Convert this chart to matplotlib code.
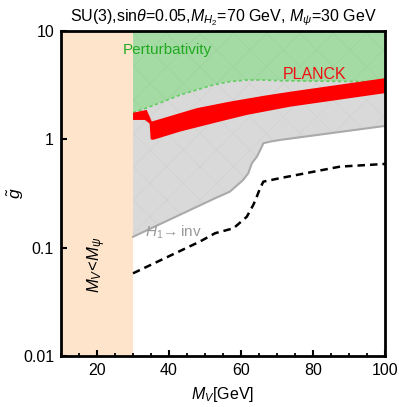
import matplotlib
matplotlib.use("Agg")
import matplotlib.pyplot as plt
import numpy as np
from matplotlib.ticker import MultipleLocator, FixedLocator, NullLocator

plt.rcParams['font.family'] = ['Liberation Sans', 'DejaVu Sans']
plt.rcParams['mathtext.fontset'] = 'custom'
plt.rcParams['mathtext.rm'] = 'Liberation Sans'
plt.rcParams['mathtext.it'] = 'Liberation Sans:italic'
plt.rcParams['hatch.linewidth'] = 0.4

# perturbativity boundary (bottom of green region)
pert_x = [30.0, 34.7, 38.4, 43.1, 47.7, 52.3, 56.9, 61.6, 66.2, 70.8, 80.0, 90.0, 100.0]
pert_y = [1.76, 2.00, 2.23, 2.57, 2.86, 3.18, 3.41, 3.53, 3.53, 3.48, 3.45, 3.42, 3.40]

# H1 -> inv boundary (bottom of grey region)
inv_x = [30.0, 52.8, 56.9, 60.6, 62.0, 63.0, 64.4, 65.8, 66.2, 68.1, 70.8, 100.0]
inv_y = [0.126, 0.286, 0.329, 0.422, 0.486, 0.601, 0.692, 0.857, 0.92, 0.953, 0.987, 1.33]

# PLANCK band
planck_top_x = [30.0, 33.8, 35.2, 38.4, 47.7, 56.9, 66.2, 73.6, 100.0]
planck_top_y = [1.76, 1.87, 1.46, 1.57, 1.94, 2.23, 2.52, 2.75, 3.67]
planck_bot_x = [30.0, 33.3, 34.6, 34.9, 35.6, 43.1, 52.3, 61.6, 73.6, 100.0]
planck_bot_y = [1.51, 1.51, 1.40, 1.00, 0.99, 1.18, 1.41, 1.68, 2.00, 2.67]

# dashed line
dash_x = [30.0, 48.6, 52.8, 57.9, 61.6, 63.4, 64.0, 65.3, 66.2, 70.8, 87.5, 100.0]
dash_y = [0.058, 0.114, 0.136, 0.151, 0.193, 0.248, 0.275, 0.354, 0.407, 0.438, 0.56, 0.593]

fig = plt.figure(figsize=(3.99, 4.07), dpi=100)
ax = fig.add_axes([0.153, 0.1253, 0.812, 0.7985])
ax.set_yscale('log')
ax.set_xlim(10, 100)
ax.set_ylim(0.01, 10)

# M_V < M_psi region
ax.axvspan(10, 30, color='#fde4cb', lw=0, zorder=1)

# green region
gx = np.array(pert_x)
gy = np.array(pert_y)
ax.fill(np.concatenate([gx, [100, 30]]), np.concatenate([gy, [10, 10]]),
        facecolor='#a4daa4', edgecolor='#9dd29d', hatch='x', lw=0, zorder=2)
ax.plot(gx, gy, color='#66cc66', ls=(0, (2, 1.5)), lw=1.2, zorder=3)

# grey region
ix = np.array(inv_x)
iy = np.array(inv_y)
ax.fill(np.concatenate([gx, ix[::-1]]), np.concatenate([gy, iy[::-1]]),
        facecolor='#d9d9d9', edgecolor='#d0d0d0', hatch='x', lw=0, zorder=2)
ax.plot(ix, iy, color='#aaaaaa', lw=1.5, zorder=3)

# PLANCK band
ax.fill(np.concatenate([planck_top_x, planck_bot_x[::-1]]),
        np.concatenate([planck_top_y, planck_bot_y[::-1]]),
        color='#ff0000', lw=0, zorder=4)

# dashed black line
ax.plot(dash_x, dash_y, color='black', ls=(0, (3, 2)), lw=1.8, zorder=5)

ax.text(27.2, 6.7, 'Perturbativity', color='#22aa22', fontsize=11, va='center', zorder=6)
ax.text(71.7, 3.94, 'PLANCK', color='#ee1111', fontsize=11.5, va='center', zorder=6)
ax.text(33.3, 0.14, r'$H_1\!\rightarrow$inv', color='#999999', fontsize=11, va='center', zorder=6)
ax.text(20, 0.069, r'$M_V\!<\!M_\psi$', rotation=90, color='black', fontsize=12,
        ha='center', va='center', zorder=6)

ax.set_title(r'SU(3),sin$\theta$=0.05,$M_{H_2}$=70 GeV, $M_\psi$=30 GeV', fontsize=11.5, pad=7)
ax.set_xlabel(r'$M_V$[GeV]', fontsize=11.5, labelpad=5)
ax.set_ylabel(r'$\tilde{g}$', fontsize=12.5, va='center')
ax.yaxis.set_label_coords(-0.14, 0.5)

ax.xaxis.set_major_locator(FixedLocator([20, 40, 60, 80, 100]))
ax.xaxis.set_minor_locator(MultipleLocator(5))
ax.yaxis.set_major_locator(FixedLocator([0.01, 0.1, 1, 10]))
ax.yaxis.set_minor_locator(NullLocator())
ax.set_yticklabels(['0.01', '0.1', '1', '10'])
ax.tick_params(direction='in', labelsize=11.5, width=1.5)
ax.tick_params(which='major', length=4, pad=5)
ax.tick_params(which='minor', direction='in', length=2.5, width=1.3)
for s in ax.spines.values():
    s.set_linewidth(2)
    s.set_zorder(10)

fig.savefig('out.png', dpi=100)
